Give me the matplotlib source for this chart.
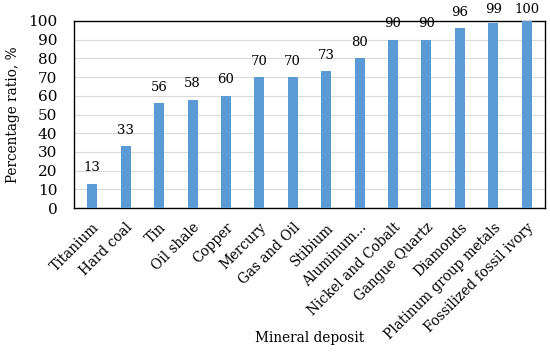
import numpy as np
import matplotlib.pyplot as plt

# data
deposits = ['Titanium', 'Hard coal', 'Tin', 'Oil shale', 'Copper', 'Mercury',
            'Gas and Oil', 'Stibium', 'Aluminum...', 'Nickel and Cobalt',
            'Gangue Quartz', 'Diamonds', 'Platinum group metals',
            'Fossilized fossil ivory']
ratios = [13, 33, 56, 58, 60, 70, 70, 73, 80, 90, 90, 96, 99, 100]

plt.rcParams['font.family'] = ['DejaVu Serif']

fig = plt.figure(figsize=(5.5, 3.52), dpi=100)
ax = fig.add_axes([74 / 550, 1 - 208 / 352, 471 / 550, 187 / 352])

x = np.arange(len(deposits))
ax.bar(x, ratios, width=0.3, color='#5b9bd5', zorder=3)
for xi, v in zip(x, ratios):
    # labels near the top are squeezed down like in the original
    ax.text(xi, min(v + 5, 102.7), str(v), ha='center', va='bottom',
            fontsize=9.5, clip_on=False, zorder=4)

ax.set_xlim(-0.55, len(deposits) - 0.45)
ax.set_ylim(0, 100)
ax.set_yticks(range(0, 101, 10))
ax.grid(axis='y', color='#d9d9d9', linewidth=0.8, zorder=0)
ax.tick_params(axis='both', length=0)
ax.tick_params(axis='y', pad=12, labelsize=11)
ax.tick_params(axis='x', pad=9, labelsize=9.8)
ax.set_xticks(x)
ax.set_xticklabels(deposits, rotation=45, ha='right', rotation_mode='anchor')
for s in ax.spines.values():
    s.set_color('black')
    s.set_linewidth(1.0)

ax.set_ylabel('Percentage ratio, %', fontsize=9.8, labelpad=6)
ax.set_xlabel('Mineral deposit', fontsize=9.8)
ax.xaxis.set_label_coords(0.5, -0.66)

fig.savefig('out.png', dpi=100)
